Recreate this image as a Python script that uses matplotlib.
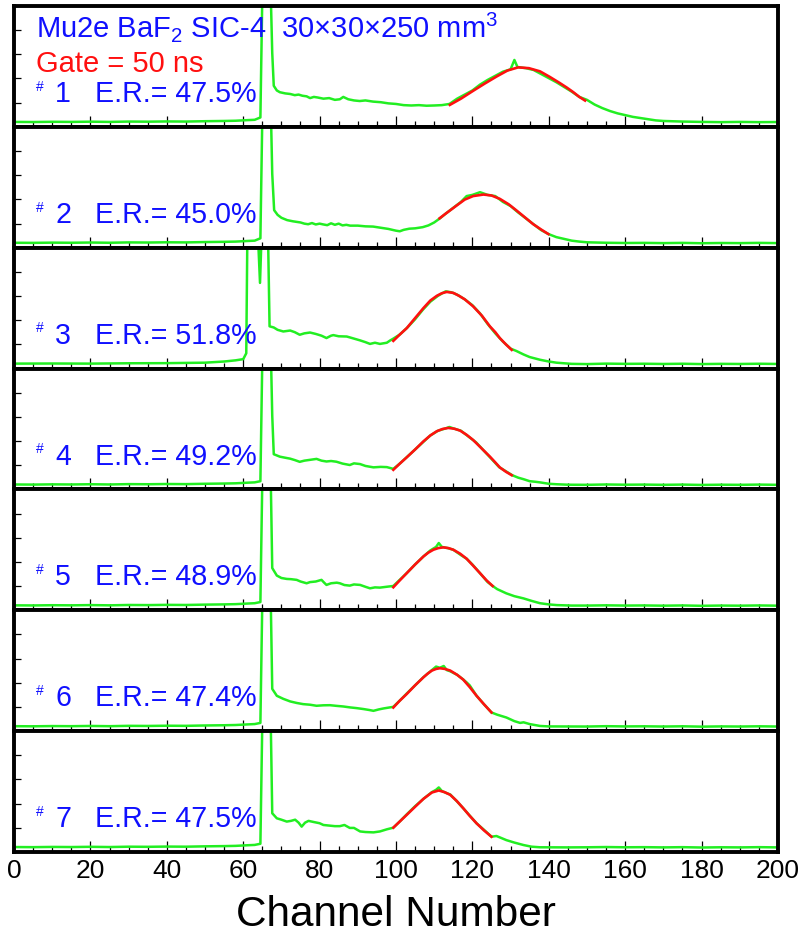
import matplotlib
matplotlib.use("Agg")
import matplotlib.pyplot as plt
from matplotlib.ticker import MultipleLocator

plt.rcParams['font.family'] = ['Liberation Sans', 'DejaVu Sans']
plt.rcParams['mathtext.fontset'] = 'custom'
plt.rcParams['mathtext.rm'] = 'Liberation Sans'
plt.rcParams['mathtext.it'] = 'Liberation Sans'

# energy resolution per sample
samples = ['1', '2', '3', '4', '5', '6', '7']
resolutions = ['47.5%', '45.0%', '51.8%', '49.2%', '48.9%', '47.4%', '47.5%']

# common low-channel pedestal and high-channel tail (normalised counts)
pedestal = [(0, .012), (5, .011), (10, .013), (15, .012), (20, .014), (25, .012), (30, .015),
            (35, .014), (40, .016), (45, .015), (50, .018), (55, .02), (58, .022), (61, .027), (63, .03)]
tail = [(155, .012), (160, .01), (165, .011), (170, .009), (175, .011), (180, .008),
        (185, .01), (190, .009), (195, .011), (200, .009)]

# spectra (channel, normalised counts)
green_1 = [(64.5, .05), (65.2, 1.5), (66.9, 1.5), (67.6, .6), (68, .32), (68.8, .28), (69.6, .265),
           (71, .255), (72.3, .25), (73.5, .24), (74.5, .245), (75.5, .235), (76.6, .23), (77.5, .215),
           (78.5, .225), (79.5, .22), (81, .21), (82.5, .215), (84, .2), (85.3, .205), (86.2, .225),
           (87.5, .205), (89, .195), (90.5, .19), (92, .195), (94, .185), (96, .18), (98, .17),
           (100, .165), (102, .155), (104, .152), (106, .155), (108, .15), (110, .152), (112, .155),
           (114, .165), (116, .21), (118, .245), (120, .28), (122, .33), (124, .37), (126, .405),
           (128, .44), (130, .46), (131, .54), (131.8, .48), (134, .47), (136, .455), (138, .42),
           (140, .385), (142, .35), (144, .31), (146, .27), (148, .225), (150, .2), (152, .16),
           (154, .13), (156, .105), (158, .085), (160, .07), (162, .055), (164, .045), (166, .035),
           (168, .025), (170, .02), (175, .015), (180, .012), (185, .01), (190, .012), (195, .01),
           (200, .011)]
green_2 = [(64.5, .05), (65.2, 1.5), (67, 1.5), (67.6, .6), (68.1, .29), (69, .25), (70, .225),
           (71.5, .205), (73, .195), (74, .19), (75, .185), (76, .175), (77, .17), (78, .18),
           (79, .168), (80, .175), (81, .168), (82, .162), (83, .178), (84, .165), (85, .175),
           (86, .16), (87, .165), (88, .158), (90, .158), (92, .152), (94, .15), (96, .14),
           (98, .13), (100, .115), (101, .11), (102, .122), (103.5, .132), (105, .135), (107, .145),
           (108.5, .16), (110, .185), (111.5, .22), (113, .26), (115, .31), (117, .36), (118.5, .41),
           (120, .42), (122, .443), (124, .42), (126, .41), (128, .36), (130, .325), (132, .27),
           (134, .22), (136, .17), (138, .12), (140, .085), (142, .06), (144, .045), (146, .03),
           (148, .022), (150, .016)] + tail
green_3 = [(0, .012), (10, .013), (20, .012), (30, .015), (40, .016), (45, .018), (50, .02),
           (55, .03), (58, .04), (60, .05), (60.8, .1), (61.2, 1.5), (63.6, 1.3), (64.4, .7),
           (65.0, 1.3), (66.3, 1.5), (66.9, .33), (68, .32), (69, .3), (70.5, .286), (72.3, .294),
           (73.5, .28), (74.8, .258), (76, .27), (77.5, .277), (79, .265), (80.5, .25), (81.8, .23),
           (83, .25), (83.6, .255), (85, .245), (87.1, .243), (88.5, .23), (90.6, .21), (92, .195),
           (93.2, .18), (94.5, .19), (95.8, .18), (97.6, .19), (98.5, .21), (99.3, .225),
           (101, .26), (103, .32), (105, .39), (107, .47), (109, .54), (111, .59), (113, .628),
           (114.5, .62), (116, .6), (118, .56), (120, .51), (122, .44), (124, .35), (126, .27),
           (128, .2), (130, .14), (131.5, .12), (133.4, .09), (135, .068), (137.7, .045),
           (140, .03), (142, .02), (146, .01), (150, .008)] + tail
green_4 = [(64.5, .04), (65.2, 1.5), (67, 1.5), (67.6, .6), (68, .27), (69.6, .249), (71, .24),
           (72.3, .232), (73.5, .22), (74.8, .205), (76, .215), (77.5, .222), (79.2, .23),
           (80.5, .215), (81.8, .208), (83, .212), (84.4, .206), (86, .19), (87.9, .178), (89, .192),
           (90.6, .186), (92, .17), (94.1, .158), (96, .162), (97.6, .16), (99.3, .145), (101, .19),
           (103, .25), (105, .31), (107, .37), (109, .43), (111, .47), (113, .49), (114, .502),
           (115, .49), (117, .47), (119, .42), (121, .37), (123, .3), (125, .23), (127, .16),
           (129, .12), (130.5, .09), (132, .07), (133.4, .057), (135, .04), (136.5, .035),
           (137.7, .03), (140, .018), (142, .014), (145, .01), (150, .009)] + tail
green_5 = [(64.5, .04), (65.2, 1.5), (67, 1.5), (67.6, .33), (68.8, .266), (70, .245),
           (71.4, .237), (72.5, .235), (74, .229), (75, .215), (76.6, .2), (77.5, .21), (79, .215),
           (80.5, .229), (81.2, .205), (81.8, .186), (83, .2), (84.5, .205), (85.3, .2), (86.5, .185),
           (87.9, .18), (89, .19), (90.6, .186), (92, .17), (93.2, .157), (94.5, .165), (95.8, .163),
           (97.5, .17), (99.3, .177), (101, .23), (102.8, .286), (105, .36), (107.2, .429),
           (109, .48), (110.5, .51), (111.2, .543), (112, .51), (113.5, .5), (115, .486), (117, .44),
           (118.5, .409), (120, .36), (122, .286), (124, .21), (125.3, .177), (126.5, .15),
           (128.9, .114), (131, .09), (133.4, .071), (135.5, .05), (137.7, .03), (140, .02),
           (142.1, .014), (146, .01), (150, .01)] + tail
green_6 = [(64.5, .04), (65.2, 1.5), (67, 1.5), (67.6, .33), (68.8, .271), (70.5, .245),
           (72.3, .223), (74, .21), (75.7, .2), (77.5, .195), (79.2, .186), (81, .19), (82.7, .191),
           (84.5, .185), (86.2, .18), (88, .172), (89.7, .166), (91.5, .158), (93, .15), (94.1, .143),
           (95.5, .155), (96.7, .163), (98, .17), (99.3, .177), (101, .23), (102.8, .29), (105, .36),
           (107.2, .43), (109.4, .49), (110.5, .52), (111.5, .51), (112.5, .525), (113.3, .49),
           (114.2, .48), (116, .45), (117.6, .41), (118.5, .385), (119.3, .36), (121.1, .271),
           (123, .2), (125, .129), (126.5, .11), (128.9, .086), (131, .055), (132.5, .04),
           (133.4, .045), (135, .03), (137.7, .014), (140, .01), (150, .009)] + tail
green_7 = [(64.5, .04), (65.2, 1.5), (67, 1.5), (67.6, .3), (68.8, .257), (70, .245), (71.4, .229),
           (72.5, .235), (73.6, .245), (74.5, .22), (75.3, .186), (76.2, .22), (77.1, .235),
           (78.5, .225), (80, .215), (81, .2), (82.5, .195), (84, .19), (85.3, .19), (86.5, .2),
           (87.9, .175), (89, .175), (90.6, .145), (92, .14), (94.1, .137), (95.8, .145),
           (97.6, .163), (99.3, .177), (101, .23), (102.8, .29), (105, .36), (107.2, .423),
           (109.4, .48), (110.5, .5), (111.2, .52), (112, .49), (113, .475), (114.2, .46), (116, .4),
           (117.6, .343), (119.3, .28), (121.1, .214), (123, .16), (125, .1), (126.3, .106),
           (127.5, .09), (128.9, .071), (131, .05), (133.4, .029), (135.5, .015), (137.7, .01),
           (145, .009), (150, .01)] + tail

# gaussian fits (red)
fit_1 = [(114.1, .157), (117, .21), (120.2, .277), (123.3, .34), (126.4, .40), (129.2, .45),
         (132.0, .477), (134.8, .47), (137.7, .443), (140.3, .395), (142.9, .343), (144.7, .305),
         (146.4, .266), (148, .225), (149.5, .194)]
fit_2 = [(111.4, .22), (113, .26), (115.9, .33), (118, .38), (120.2, .41), (122.9, .423),
         (125, .415), (127.2, .386), (129.5, .34), (131.6, .286), (133.7, .23), (135.9, .171),
         (138, .125), (139.9, .086)]
fit_3 = [(99.3, .206), (101, .26), (102.8, .314), (105, .40), (107.2, .486), (109, .55),
         (110.7, .59), (112, .612), (113.3, .623), (115, .615), (116.5, .59), (118, .56),
         (120.2, .50), (122.5, .42), (124.6, .329), (126, .28), (127.2, .229), (128.8, .175),
         (130.3, .129)]
fit_4 = [(99.3, .137), (101, .19), (102.8, .243), (105, .31), (107.2, .38), (109, .43),
         (110.7, .466), (112.2, .485), (113.7, .494), (115.3, .487), (116.8, .471), (118.5, .435),
         (120.2, .391), (122.4, .32), (124.6, .249), (126, .2), (127.2, .157), (128.8, .12),
         (130.3, .091)]
fit_5 = [(99.3, .166), (101, .225), (102.8, .286), (105, .36), (107.2, .429), (108.5, .462),
         (109.8, .486), (111.1, .5), (112.4, .506), (113.7, .5), (115, .486), (116.8, .452),
         (118.5, .409), (120.2, .35), (122, .286), (123.7, .225), (125.3, .177)]
fit_6 = [(99.3, .171), (101, .23), (102.8, .286), (105, .36), (107.2, .429), (108.3, .46),
         (109.4, .486), (110.5, .5), (111.5, .506), (112.8, .5), (114.2, .486), (116, .45),
         (117.6, .409), (119.3, .345), (121.1, .271), (123, .2), (125, .129)]
fit_7 = [(99.3, .177), (101, .23), (102.8, .286), (105, .355), (107.2, .423), (109.4, .477),
         (111.2, .494), (112.7, .48), (114.2, .457), (115.9, .405), (117.6, .343), (119.3, .278),
         (121.1, .214), (123, .155), (125, .1)]

greens = [pedestal + green_1, pedestal + green_2, green_3, pedestal + green_4,
          pedestal + green_5, pedestal + green_6, pedestal + green_7]
fits = [fit_1, fit_2, fit_3, fit_4, fit_5, fit_6, fit_7]

BLUE = '#1010ff'
GREEN = '#22ee22'
RED = '#ff1010'

fig, axes = plt.subplots(7, 1, sharex=True, figsize=(8.02, 9.35), dpi=100)
fig.subplots_adjust(left=0.0175, right=0.970, top=0.9936, bottom=0.0888, hspace=0)

ymin, ymax = -0.03, 1.0
for i, ax in enumerate(axes):
    gx, gy = zip(*greens[i])
    fx, fy = zip(*fits[i])
    ax.plot(gx, gy, color=GREEN, lw=1.8, zorder=2)
    ax.plot(fx, fy, color=RED, lw=1.9, zorder=3)
    ax.set_xlim(0, 200)
    ax.set_ylim(ymin, ymax)
    ax.set_yticks([ymin + f * (ymax - ymin) for f in (0.2, 0.4, 0.6, 0.8)])
    ax.set_yticklabels([])
    ax.xaxis.set_major_locator(MultipleLocator(20))
    ax.xaxis.set_minor_locator(MultipleLocator(5))
    ax.tick_params(axis='x', which='major', direction='in', length=8, width=0.9,
                   top=False, labelsize=19, pad=5)
    ax.tick_params(axis='x', which='minor', direction='in', length=4.5, width=0.9, top=False)
    ax.tick_params(axis='y', which='major', direction='in', length=5, width=0.9, right=False)
    for s in ax.spines.values():
        s.set_linewidth(2.8)

    ax.text(0.029, 0.39, '#', transform=ax.transAxes, color=BLUE, fontsize=10, va='top')
    ax.text(0.054, 0.205, samples[i], transform=ax.transAxes, color=BLUE, fontsize=20.6,
            va='baseline')
    ax.text(0.106, 0.205, 'E.R.= ' + resolutions[i], transform=ax.transAxes, color=BLUE,
            fontsize=20.6, va='baseline')

axes[0].text(0.029, 0.745, r'Mu2e BaF$_2$ SIC-4  30×30×250 mm$^3$',
             transform=axes[0].transAxes, color=BLUE, fontsize=21, va='baseline')
axes[0].text(0.029, 0.45, 'Gate = 50 ns', transform=axes[0].transAxes, color=RED,
             fontsize=21, va='baseline')

axes[-1].set_xlabel('Channel Number', fontsize=30.5, labelpad=9)

fig.savefig('out.png', dpi=100)
